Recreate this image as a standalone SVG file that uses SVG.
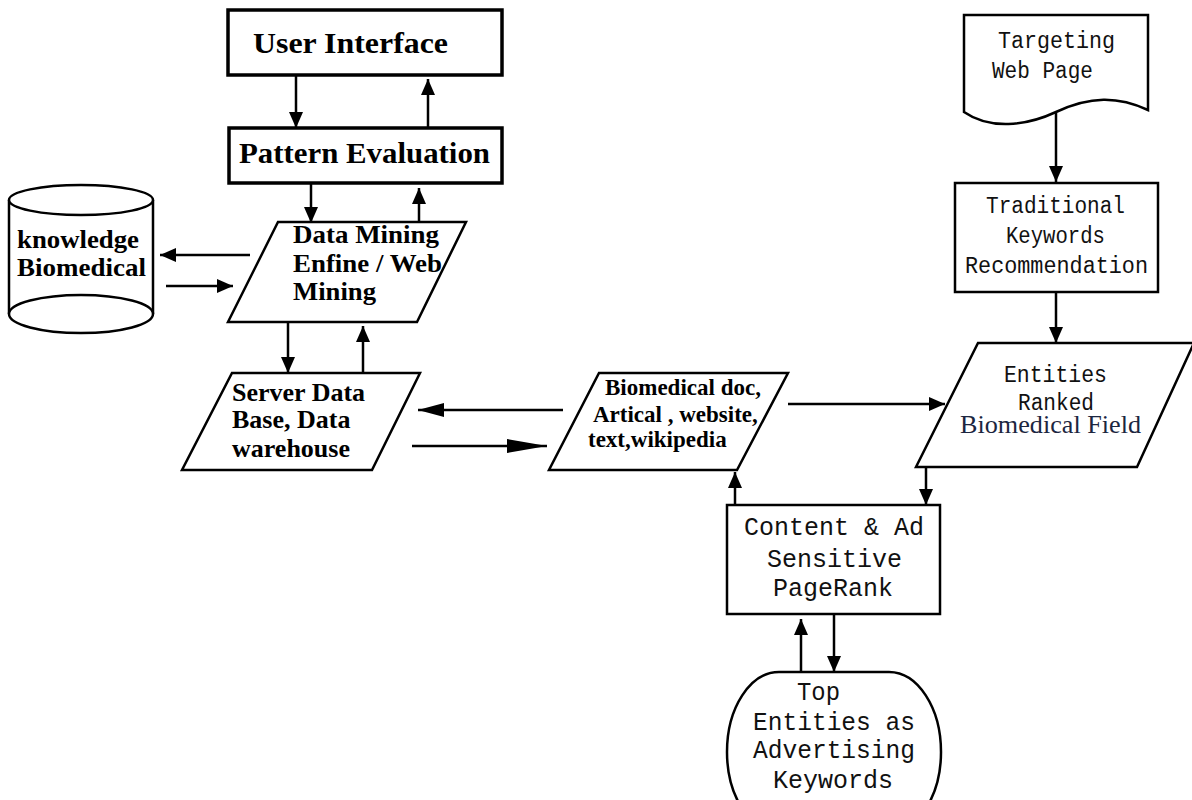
<svg xmlns="http://www.w3.org/2000/svg" width="1192" height="800" viewBox="0 0 1192 800">
  <style>
    .shape { fill: #ffffff; stroke: #000000; stroke-width: 2.5; }
    .thick { stroke-width: 3.5; }
    .bold { font-family: "Liberation Serif", "Times New Roman", serif; font-weight: bold; fill: #000000; }
    .mono { font-family: "Liberation Mono", "Courier New", monospace; fill: #111111; }
    .serif { font-family: "Liberation Serif", "Times New Roman", serif; fill: #1c2640; }
    .conn { stroke: #000000; stroke-width: 2.5; fill: none; }
  </style>
  <defs>
    <marker id="head" markerUnits="userSpaceOnUse" markerWidth="18" markerHeight="16" refX="16" refY="8" orient="auto">
      <path d="M0,1 L16,8 L0,15 Z" fill="#000000"/>
    </marker>
    <marker id="headLong" markerUnits="userSpaceOnUse" markerWidth="42" markerHeight="16" refX="40" refY="8" orient="auto">
      <path d="M0,1 L40,8 L0,15 Z" fill="#000000"/>
    </marker>
    <marker id="headMid" markerUnits="userSpaceOnUse" markerWidth="28" markerHeight="16" refX="26" refY="8" orient="auto">
      <path d="M0,1 L26,8 L0,15 Z" fill="#000000"/>
    </marker>
  </defs>

  <rect width="1192" height="800" fill="#ffffff"/>

  <!-- connectors -->
  <g id="connectors">
    <line class="conn" x1="296" y1="75" x2="296" y2="128" marker-end="url(#head)"/>
    <line class="conn" x1="428" y1="128" x2="428" y2="79" marker-end="url(#head)"/>
    <line class="conn" x1="311" y1="183" x2="311" y2="223" marker-end="url(#head)"/>
    <line class="conn" x1="419" y1="222" x2="419" y2="188" marker-end="url(#head)"/>
    <line class="conn" x1="250" y1="255" x2="160" y2="255" marker-end="url(#head)"/>
    <line class="conn" x1="166" y1="286" x2="233" y2="286" marker-end="url(#head)"/>
    <line class="conn" x1="288" y1="322" x2="288" y2="373" marker-end="url(#head)"/>
    <line class="conn" x1="363" y1="373" x2="363" y2="326" marker-end="url(#head)"/>
    <line class="conn" x1="563" y1="410" x2="418" y2="410" marker-end="url(#headMid)"/>
    <line class="conn" x1="412" y1="446" x2="547" y2="446" marker-end="url(#headLong)"/>
    <line class="conn" x1="788" y1="404" x2="945" y2="404" marker-end="url(#head)"/>
    <line class="conn" x1="1056" y1="113" x2="1056" y2="182" marker-end="url(#head)"/>
    <line class="conn" x1="1056" y1="292" x2="1056" y2="343" marker-end="url(#head)"/>
    <line class="conn" x1="926" y1="467" x2="926" y2="505" marker-end="url(#head)"/>
    <line class="conn" x1="735" y1="505" x2="735" y2="472" marker-end="url(#head)"/>
    <line class="conn" x1="834" y1="614" x2="834" y2="672" marker-end="url(#head)"/>
    <line class="conn" x1="801" y1="672" x2="801" y2="619" marker-end="url(#head)"/>
  </g>

  <g id="user-interface">
    <rect class="shape thick" x="228" y="10" width="274" height="65"/>
    <text class="bold" x="253" y="53" font-size="30" textLength="195" lengthAdjust="spacingAndGlyphs">User Interface</text>
  </g>

  <g id="pattern-evaluation">
    <rect class="shape thick" x="229" y="128" width="273" height="55"/>
    <text class="bold" x="239" y="163" font-size="30" textLength="251" lengthAdjust="spacingAndGlyphs">Pattern Evaluation</text>
  </g>

  <g id="data-mining">
    <polygon class="shape" points="278,222 466,222 417,322 228,322"/>
    <text class="bold" font-size="26">
      <tspan x="293" y="243" textLength="146" lengthAdjust="spacingAndGlyphs">Data Mining</tspan>
      <tspan x="293" y="272" textLength="149" lengthAdjust="spacingAndGlyphs">Enfine / Web</tspan>
      <tspan x="293" y="300" textLength="83" lengthAdjust="spacingAndGlyphs">Mining</tspan>
    </text>
  </g>

  <g id="knowledge-base">
    <path class="shape" d="M9,200 L9,314 A72,19 0 0 0 153,314 L153,200"/>
    <ellipse class="shape" cx="81" cy="200" rx="72" ry="15"/>
    <path class="shape" d="M9,314 A72,19 0 0 1 153,314" fill="none"/>
    <text class="bold" font-size="26">
      <tspan x="17" y="248" textLength="122" lengthAdjust="spacingAndGlyphs">knowledge</tspan>
      <tspan x="17" y="276" textLength="129" lengthAdjust="spacingAndGlyphs">Biomedical</tspan>
    </text>
  </g>

  <g id="server-database">
    <polygon class="shape" points="232,373 420,373 372,470 182,470"/>
    <text class="bold" font-size="26">
      <tspan x="232" y="401">Server Data</tspan>
      <tspan x="232" y="428">Base, Data</tspan>
      <tspan x="232" y="457">warehouse</tspan>
    </text>
  </g>

  <g id="biomedical-docs">
    <polygon class="shape" points="599,373 788,373 737,470 549,470"/>
    <text class="bold" font-size="23">
      <tspan x="605" y="395">Biomedical doc,</tspan>
      <tspan x="593" y="422">Artical , website,</tspan>
      <tspan x="588" y="447">text,wikipedia</tspan>
    </text>
  </g>

  <g id="targeting-page">
    <path class="shape" d="M964,15 H1148 V110 C1118,96 1090,96 1056,112 C1026,126 990,130 964,112 Z"/>
    <text class="mono" font-size="23">
      <tspan x="998" y="48" textLength="117" lengthAdjust="spacingAndGlyphs">Targeting</tspan>
      <tspan x="992" y="78" textLength="101" lengthAdjust="spacingAndGlyphs">Web Page</tspan>
    </text>
  </g>

  <g id="traditional-keywords">
    <rect class="shape" x="955" y="183" width="203" height="109"/>
    <text class="mono" font-size="23">
      <tspan x="986" y="213" textLength="139" lengthAdjust="spacingAndGlyphs">Traditional</tspan>
      <tspan x="1006" y="243" textLength="99" lengthAdjust="spacingAndGlyphs">Keywords</tspan>
      <tspan x="965" y="273" textLength="183" lengthAdjust="spacingAndGlyphs">Recommendation</tspan>
    </text>
  </g>

  <g id="ranked-entities">
    <polygon class="shape" points="978,343 1194,343 1137,467 916,467"/>
    <text class="mono" font-size="23">
      <tspan x="1004" y="382" textLength="103" lengthAdjust="spacingAndGlyphs">Entities</tspan>
      <tspan x="1018" y="410" textLength="76" lengthAdjust="spacingAndGlyphs">Ranked</tspan>
    </text>
    <text class="serif" x="960" y="433" font-size="25" textLength="181" lengthAdjust="spacingAndGlyphs">Biomedical Field</text>
  </g>

  <g id="pagerank">
    <rect class="shape" x="727" y="505" width="213" height="109"/>
    <text class="mono" font-size="26">
      <tspan x="744" y="535" textLength="180" lengthAdjust="spacingAndGlyphs">Content &amp; Ad</tspan>
      <tspan x="767" y="567" textLength="135" lengthAdjust="spacingAndGlyphs">Sensitive</tspan>
      <tspan x="773" y="596" textLength="120" lengthAdjust="spacingAndGlyphs">PageRank</tspan>
    </text>
  </g>

  <g id="top-entities">
    <rect class="shape" x="727" y="672" width="214" height="160" rx="52" ry="80"/>
    <text class="mono" font-size="26">
      <tspan x="797" y="700" textLength="43" lengthAdjust="spacingAndGlyphs">Top</tspan>
      <tspan x="753" y="730" textLength="162" lengthAdjust="spacingAndGlyphs">Entities as</tspan>
      <tspan x="753" y="758" textLength="162" lengthAdjust="spacingAndGlyphs">Advertising</tspan>
      <tspan x="773" y="788" textLength="120" lengthAdjust="spacingAndGlyphs">Keywords</tspan>
    </text>
  </g>
</svg>
